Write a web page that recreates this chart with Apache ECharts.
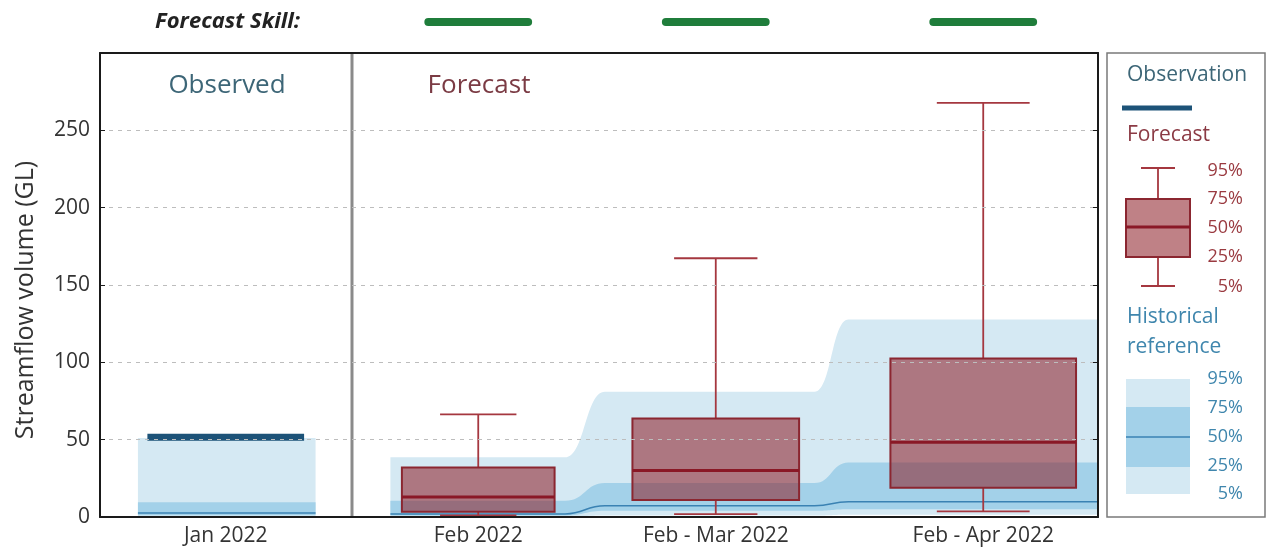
<!DOCTYPE html>
<html>
<head>
<meta charset="utf-8">
<script src="https://cdn.jsdelivr.net/npm/echarts@6/dist/echarts.min.js"></script>
<style>
html,body{margin:0;padding:0;background:#fff;}
#chart{width:1269px;height:554px;}
</style>
</head>
<body>
<div id="chart"></div>
<script>
// ---------------- DATA ----------------
const periods = ['Jan 2022', 'Feb 2022', 'Feb - Mar 2022', 'Feb - Apr 2022'];
const yTicks = [0, 50, 100, 150, 200, 250];
// observation (Jan only)
const observed = [51.5];
// historical reference percentiles per period
const histP5  = [0.3, 0.3, 1.0, 1.5];
const histP25 = [1.2, 1.0, 4.0, 5.0];
const histP50 = [2.6, 2.0, 7.3, 9.9];
const histP75 = [9.5, 10.5, 22.0, 35.3];
const histP95 = [51.0, 38.6, 81.0, 127.7];
// forecast percentiles (Feb, Feb-Mar, Feb-Apr)
const fcP5  = [1.0, 1.9, 3.7];
const fcP25 = [3.4, 11.0, 18.9];
const fcP50 = [13.0, 30.1, 48.4];
const fcP75 = [32.0, 63.7, 102.5];
const fcP95 = [66.3, 167.3, 267.7];
// forecast skill category per forecast period
const skill = ['high', 'high', 'high'];

// ---------------- LAYOUT ----------------
const periodPos = [12.6, 37.9, 61.7, 88.5];      // x positions (axis units 0..100)
const bandEdges = [[3.8, 21.6], [29.1, 46.6], [50.6, 71.6], [75.0, 100]];
const bandGroups = [[0], [1, 2, 3]];
const boxWidths = [15.3, 16.7, 18.6];
const obsWidth = 15.7;
const dividerX = 25.25;
const skillLen = 10.0;
const skillColors = { high: '#1f7d3b', medium: '#f0a020', low: '#c03030' };

const FONT = '"Open Sans", "Noto Sans", sans-serif';
const lightBand = '#d5e9f3';
const midBand = '#a3d1e9';
const medLine = '#3a82b3';
const boxFill = 'rgba(140,30,40,0.56)';

function edgePath(idxs, arr, api, reverse) {
  let d = '';
  const list = reverse ? idxs.slice().reverse() : idxs;
  list.forEach((k, j) => {
    const e = bandEdges[k];
    const a = api.coord([reverse ? e[1] : e[0], arr[k]]);
    const b = api.coord([reverse ? e[0] : e[1], arr[k]]);
    if (j === 0) {
      d += (reverse ? ' L' : 'M') + a[0] + ' ' + a[1];
    } else {
      const pk = list[j - 1];
      const pe = bandEdges[pk];
      const p = api.coord([reverse ? pe[0] : pe[1], arr[pk]]);
      const mx = (p[0] + a[0]) / 2;
      d += ' C' + mx + ' ' + p[1] + ' ' + mx + ' ' + a[1] + ' ' + a[0] + ' ' + a[1];
    }
    d += ' L' + b[0] + ' ' + b[1];
  });
  return d;
}

const chart = echarts.init(document.getElementById('chart'), null, { renderer: 'canvas' });

const histData = bandGroups.map((g, i) => [periodPos[g[0]], histP50[g[0]], i]);
const boxData = fcP50.map((v, i) => [periodPos[i + 1], fcP5[i], fcP25[i], fcP50[i], fcP75[i], fcP95[i], i]);
const obsData = observed.map((v, i) => [periodPos[i], v]);
const skillData = skill.map((s, i) => [periodPos[i + 1], 300, i]);

const boxStroke = '#8b2630';
const whiskerColor = '#a5373f';
const frameLine = { show: true, onZero: false, lineStyle: { color: '#1a1a1a', width: 2 } };

const option = {
  animation: false,
  textStyle: { fontFamily: FONT },
  grid: { left: 100, right: 171, top: 53, bottom: 37, containLabel: false },
  xAxis: [{
    type: 'value', min: 0, max: 100, z: 10,
    axisLine: frameLine,
    axisTick: { show: false },
    splitLine: { show: false },
    axisLabel: {
      customValues: periodPos,
      formatter: v => { const i = periodPos.indexOf(v); return i >= 0 ? periods[i] : ''; },
      fontSize: 21, color: '#333', margin: 9, fontFamily: FONT
    }
  }, {
    type: 'value', min: 0, max: 100, position: 'top', z: 10,
    axisLine: frameLine,
    axisTick: { show: false }, axisLabel: { show: false }, splitLine: { show: false }
  }],
  yAxis: [{
    type: 'value', min: 0, max: 300, interval: 50, z: 10,
    name: 'Streamflow volume (GL)', nameLocation: 'middle', nameGap: 62,
    nameTextStyle: { fontSize: 25, color: '#333', fontFamily: FONT, padding: [0, 30, 0, 0] },
    axisLine: frameLine,
    axisTick: { show: true, inside: true, length: 5, lineStyle: { color: '#1a1a1a', width: 1 } },
    axisLabel: {
      fontSize: 21, color: '#333', margin: 10, fontFamily: FONT,
      formatter: v => yTicks.indexOf(v) >= 0 ? String(v) : ''
    },
    splitLine: { show: true, lineStyle: { color: '#bdbdbd', type: [4, 5], width: 1 } }
  }, {
    type: 'value', min: 0, max: 300, interval: 50, position: 'right', z: 10,
    axisLine: frameLine,
    axisTick: { show: true, inside: true, length: 5, lineStyle: { color: '#1a1a1a', width: 1 } },
    axisLabel: { show: false }, splitLine: { show: false }
  }],
  series: [
    {
      name: 'Historical reference', type: 'custom', z: 1, silent: true,
      data: histData,
      renderItem: (params, api) => {
        const g = bandGroups[params.dataIndex];
        const outer = edgePath(g, histP95, api, false) + edgePath(g, histP5, api, true) + ' Z';
        const inner = edgePath(g, histP75, api, false) + edgePath(g, histP25, api, true) + ' Z';
        const med = edgePath(g, histP50, api, false);
        return {
          type: 'group',
          children: [
            { type: 'path', shape: { pathData: outer }, style: { fill: lightBand, stroke: null } },
            { type: 'path', shape: { pathData: inner }, style: { fill: midBand, stroke: null } },
            { type: 'path', shape: { pathData: med }, style: { fill: null, stroke: medLine, lineWidth: 1.5 } }
          ]
        };
      }
    },
    {
      name: 'Divider', type: 'custom', z: 2, silent: true,
      data: [[dividerX, 0]],
      renderItem: (params, api) => {
        const a = api.coord([api.value(0), 0]);
        const b = api.coord([api.value(0), 300]);
        return { type: 'line', shape: { x1: a[0], y1: a[1], x2: b[0], y2: b[1] }, style: { stroke: '#8a8a8a', lineWidth: 3 } };
      }
    },
    {
      name: 'Observation', type: 'custom', z: 4, silent: true,
      data: obsData,
      renderItem: (params, api) => {
        const a = api.coord([api.value(0) - obsWidth / 2, api.value(1)]);
        const b = api.coord([api.value(0) + obsWidth / 2, api.value(1)]);
        return { type: 'line', shape: { x1: a[0], y1: a[1], x2: b[0], y2: b[1] }, style: { stroke: '#1d5378', lineWidth: 7 } };
      }
    },
    {
      name: 'Forecast', type: 'custom', z: 3, silent: true,
      data: boxData,
      renderItem: (params, api) => {
        const x = api.value(0);
        const w = boxWidths[api.value(6)];
        const L = api.coord([x - w / 2, 0])[0];
        const R = api.coord([x + w / 2, 0])[0];
        const cx = api.coord([x, 0])[0];
        const cl = api.coord([x - w / 4, 0])[0];
        const cr = api.coord([x + w / 4, 0])[0];
        const y5 = api.coord([x, api.value(1)])[1];
        const y25 = api.coord([x, api.value(2)])[1];
        const y50 = api.coord([x, api.value(3)])[1];
        const y75 = api.coord([x, api.value(4)])[1];
        const y95 = api.coord([x, api.value(5)])[1];
        const ws = { stroke: whiskerColor, lineWidth: 1.8 };
        return {
          type: 'group',
          children: [
            { type: 'line', shape: { x1: cx, y1: y75, x2: cx, y2: y95 }, style: ws },
            { type: 'line', shape: { x1: cx, y1: y25, x2: cx, y2: y5 }, style: ws },
            { type: 'line', shape: { x1: cl, y1: y95, x2: cr, y2: y95 }, style: ws },
            { type: 'line', shape: { x1: cl, y1: y5, x2: cr, y2: y5 }, style: ws },
            { type: 'rect', shape: { x: L, y: y75, width: R - L, height: y25 - y75 },
              style: { fill: boxFill, stroke: boxStroke, lineWidth: 2 } },
            { type: 'line', shape: { x1: L, y1: y50, x2: R, y2: y50 }, style: { stroke: '#8a1826', lineWidth: 3 } }
          ]
        };
      }
    },
    {
      name: 'Forecast Skill', type: 'custom', z: 5, silent: true, clip: false,
      data: skillData,
      renderItem: (params, api) => {
        const x = api.value(0);
        const y = api.coord([x, api.value(1)])[1] - 31;
        const a = api.coord([x - skillLen / 2, 0])[0];
        const b = api.coord([x + skillLen / 2, 0])[0];
        return { type: 'line', shape: { x1: a, y1: y, x2: b, y2: y },
          style: { stroke: skillColors[skill[api.value(2)]], lineWidth: 8, lineCap: 'round' } };
      }
    }
  ],
  graphic: [
    { type: 'text', x: 300, y: 22, style: { text: 'Forecast Skill:', font: 'italic bold 22px ' + FONT, fill: '#222', align: 'right', verticalAlign: 'middle', textAlign: 'right', textVerticalAlign: 'middle' } },
    { type: 'text', x: 227, y: 86, z: 20, style: { text: 'Observed', font: '26px ' + FONT, fill: '#3d6677', align: 'center', verticalAlign: 'middle', textAlign: 'center', textVerticalAlign: 'middle' } },
    { type: 'text', x: 479, y: 86, z: 20, style: { text: 'Forecast', font: '26px ' + FONT, fill: '#7b3b44', align: 'center', verticalAlign: 'middle', textAlign: 'center', textVerticalAlign: 'middle' } },
    // legend
    { type: 'rect', shape: { x: 1107, y: 53, width: 158, height: 464 }, style: { fill: '#fff', stroke: '#7a7a7a', lineWidth: 1.5 } },
    { type: 'text', x: 1127, y: 75, style: { text: 'Observation', font: '21px ' + FONT, fill: '#3d6677', verticalAlign: 'middle', textVerticalAlign: 'middle' } },
    { type: 'line', shape: { x1: 1122, y1: 108, x2: 1192, y2: 108 }, style: { stroke: '#1d5378', lineWidth: 5 } },
    { type: 'text', x: 1127, y: 135, style: { text: 'Forecast', font: '21px ' + FONT, fill: '#8b3a44', verticalAlign: 'middle', textVerticalAlign: 'middle' } },
    { type: 'line', shape: { x1: 1158, y1: 168, x2: 1158, y2: 199 }, style: { stroke: whiskerColor, lineWidth: 1.8 } },
    { type: 'line', shape: { x1: 1158, y1: 257, x2: 1158, y2: 286 }, style: { stroke: whiskerColor, lineWidth: 1.8 } },
    { type: 'line', shape: { x1: 1141, y1: 168, x2: 1175, y2: 168 }, style: { stroke: whiskerColor, lineWidth: 1.8 } },
    { type: 'line', shape: { x1: 1141, y1: 286, x2: 1175, y2: 286 }, style: { stroke: whiskerColor, lineWidth: 1.8 } },
    { type: 'rect', shape: { x: 1126, y: 199, width: 64, height: 58 }, style: { fill: boxFill, stroke: boxStroke, lineWidth: 2 } },
    { type: 'line', shape: { x1: 1126, y1: 227, x2: 1190, y2: 227 }, style: { stroke: '#8a1826', lineWidth: 3 } },
    ...[['95%', 171], ['75%', 199], ['50%', 228], ['25%', 257], ['5%', 287]].map(t => ({
      type: 'text', x: 1243, y: t[1], style: { text: t[0], font: '18px ' + FONT, fill: '#9a3a40', align: 'right', verticalAlign: 'middle', textAlign: 'right', textVerticalAlign: 'middle' }
    })),
    { type: 'text', x: 1127, y: 317, style: { text: 'Historical', font: '21px ' + FONT, fill: '#3f86ad', verticalAlign: 'middle', textVerticalAlign: 'middle' } },
    { type: 'text', x: 1127, y: 347, style: { text: 'reference', font: '21px ' + FONT, fill: '#3f86ad', verticalAlign: 'middle', textVerticalAlign: 'middle' } },
    { type: 'rect', shape: { x: 1126, y: 379, width: 64, height: 115 }, style: { fill: lightBand } },
    { type: 'rect', shape: { x: 1126, y: 407, width: 64, height: 60 }, style: { fill: midBand } },
    { type: 'line', shape: { x1: 1126, y1: 437, x2: 1190, y2: 437 }, style: { stroke: medLine, lineWidth: 1.5 } },
    ...[['95%', 379], ['75%', 408], ['50%', 437], ['25%', 466], ['5%', 494]].map(t => ({
      type: 'text', x: 1243, y: t[1], style: { text: t[0], font: '18px ' + FONT, fill: '#3f86ad', align: 'right', verticalAlign: 'middle', textAlign: 'right', textVerticalAlign: 'middle' }
    }))
  ]
};
chart.setOption(option);
</script>
</body>
</html>
